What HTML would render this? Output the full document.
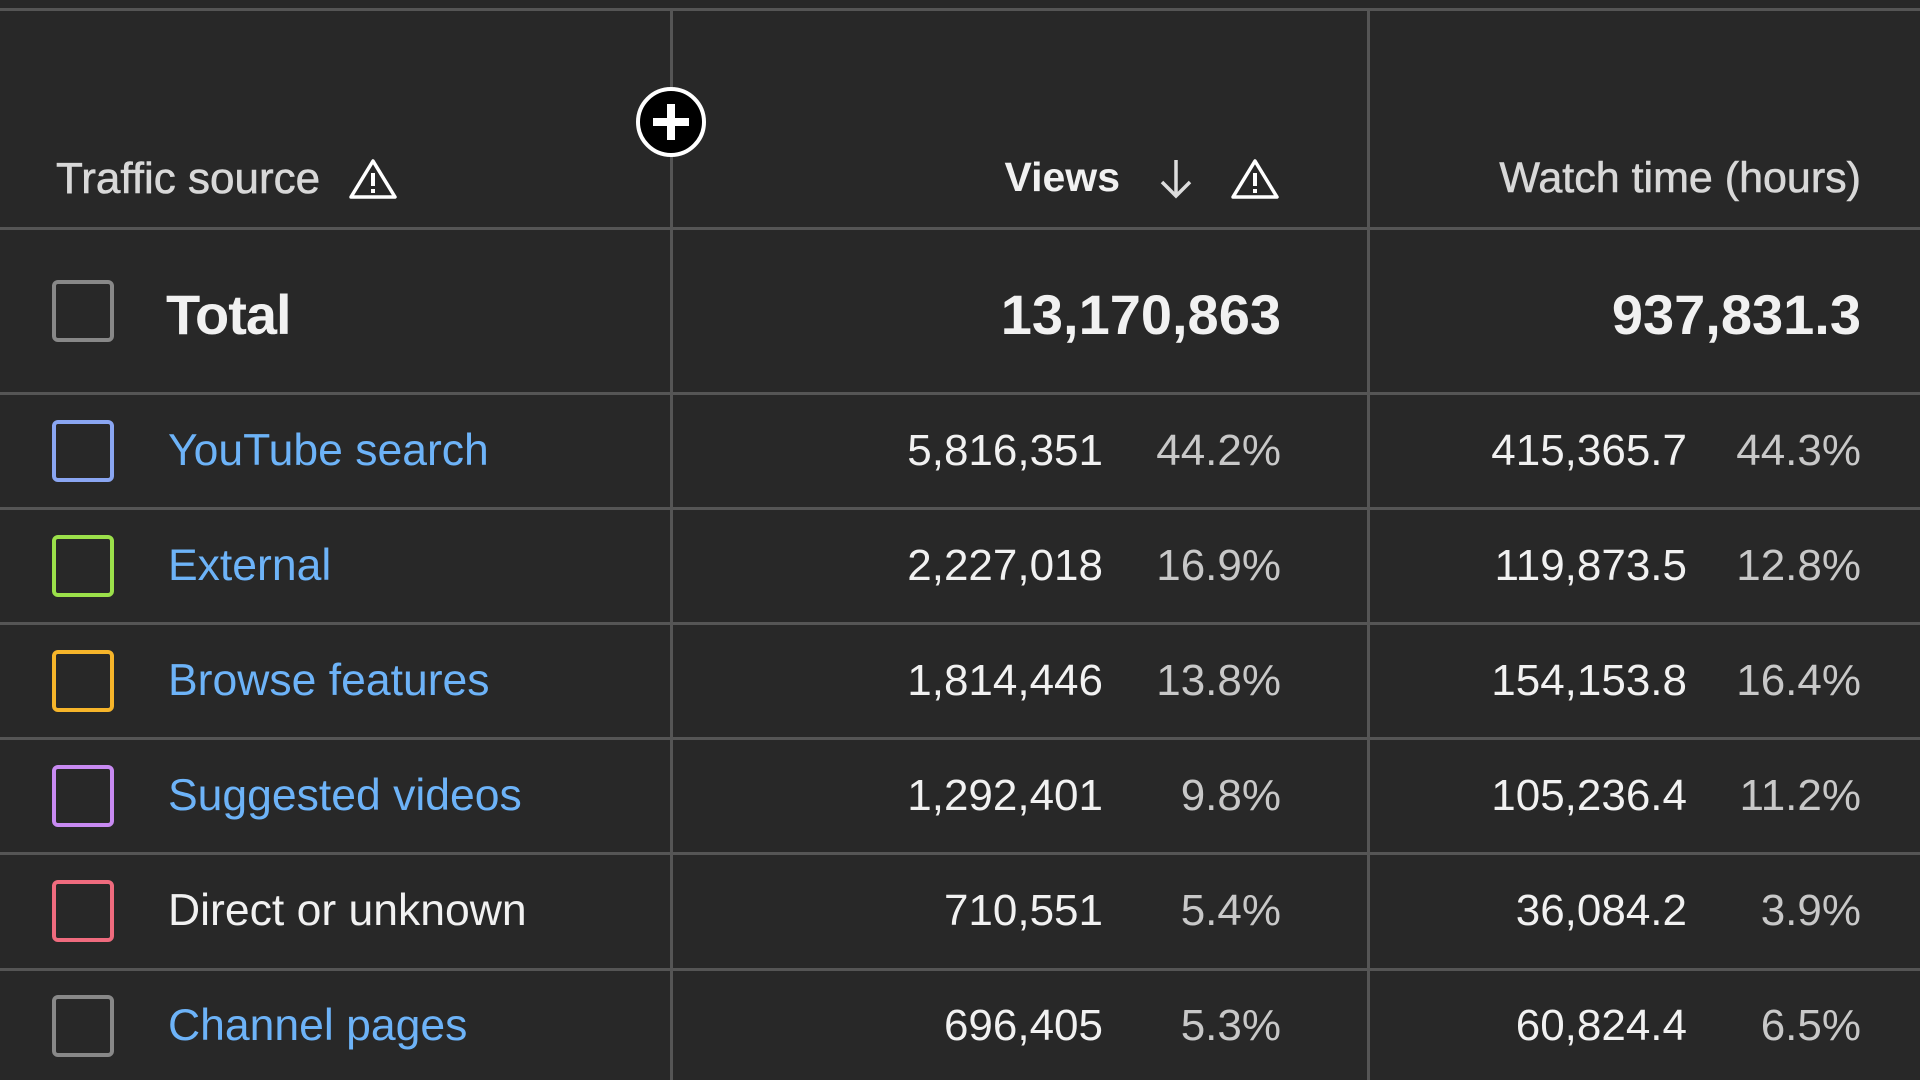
<!DOCTYPE html>
<html><head><meta charset="utf-8"><style>
html,body{margin:0;padding:0;width:1920px;height:1080px;overflow:hidden;background:#282828;font-family:"Liberation Sans",Arial,sans-serif;color:#f1f1f1}
.h{position:absolute;left:0;width:1920px;height:3px;background:#555}
.v{position:absolute;top:9px;width:3px;height:1071px;background:#555}
.t{position:absolute;white-space:nowrap;line-height:1}
.r{text-align:right}
.cb{position:absolute;left:52px;width:62px;height:62px;border:4px solid #888;border-radius:6px;box-sizing:border-box}
.lnk{color:#6db3f8}
.pc{color:#c8c8c8}
.n{font-size:44px}
</style></head><body>
<div class="h" style="top:8px"></div>
<div class="h" style="top:227px"></div>
<div class="h" style="top:392px"></div>
<div class="h" style="top:507px"></div>
<div class="h" style="top:622px"></div>
<div class="h" style="top:737px"></div>
<div class="h" style="top:852px"></div>
<div class="h" style="top:968px"></div>
<div class="v" style="left:670px"></div>
<div class="v" style="left:1367px"></div>

<svg style="position:absolute;left:635px;top:86px" width="72" height="72" viewBox="0 0 72 72">
<circle cx="36" cy="36" r="33" fill="#000" stroke="#fff" stroke-width="4"/>
<rect x="32" y="18" width="8" height="36" fill="#fff"/><rect x="18" y="32" width="36" height="8" fill="#fff"/>
</svg>

<div class="t" style="left:56px;top:157px;font-size:44px;color:#d8d8d8;-webkit-text-stroke:0.6px #d8d8d8">Traffic source</div>
<svg style="position:absolute;left:348px;top:158px" width="50" height="42" viewBox="0 0 50 42"><path d="M25 3 L47 39 L3 39 Z" fill="none" stroke="#fff" stroke-width="3.5" stroke-linejoin="round"/><rect x="23" y="15" width="4" height="13" fill="#fff"/><rect x="23" y="31" width="4" height="4" fill="#fff"/></svg>

<div class="t r" style="right:800px;top:157px;font-size:41px;font-weight:bold;width:200px">Views</div>
<svg style="position:absolute;left:1156px;top:158px" width="40" height="42" viewBox="0 0 40 42"><path d="M20 2 V38 M6 24 L20 38 L34 24" fill="none" stroke="#ddd" stroke-width="3.5"/></svg>
<svg style="position:absolute;left:1230px;top:158px" width="50" height="42" viewBox="0 0 50 42"><path d="M25 3 L47 39 L3 39 Z" fill="none" stroke="#fff" stroke-width="3.5" stroke-linejoin="round"/><rect x="23" y="15" width="4" height="13" fill="#fff"/><rect x="23" y="31" width="4" height="4" fill="#fff"/></svg>
<div class="t r" style="right:59px;top:157px;font-size:43px;color:#d8d8d8;-webkit-text-stroke:0.6px #d8d8d8">Watch time (hours)</div>

<div class="cb" style="top:280px"></div>
<div class="t" style="left:166px;top:287px;font-size:56px;font-weight:bold;letter-spacing:-1px">Total</div>
<div class="t r" style="right:639px;top:287px;font-size:56px;font-weight:bold">13,170,863</div>
<div class="t r" style="right:59px;top:287px;font-size:56px;font-weight:bold">937,831.3</div>

<div class="cb" style="top:420px;border-color:#8aa6f2"></div>
<div class="t lnk" style="left:168px;top:429px;font-size:44.5px">YouTube search</div>
<div class="t r n" style="right:817px;top:429px">5,816,351</div>
<div class="t r pc n" style="right:639px;top:429px">44.2%</div>
<div class="t r n" style="right:233px;top:429px">415,365.7</div>
<div class="t r pc n" style="right:59px;top:429px">44.3%</div>

<div class="cb" style="top:535px;border-color:#9be04a"></div>
<div class="t lnk" style="left:168px;top:544px;font-size:44.5px">External</div>
<div class="t r n" style="right:817px;top:544px">2,227,018</div>
<div class="t r pc n" style="right:639px;top:544px">16.9%</div>
<div class="t r n" style="right:233px;top:544px">119,873.5</div>
<div class="t r pc n" style="right:59px;top:544px">12.8%</div>

<div class="cb" style="top:650px;border-color:#f6b52a"></div>
<div class="t lnk" style="left:168px;top:659px;font-size:44.5px">Browse features</div>
<div class="t r n" style="right:817px;top:659px">1,814,446</div>
<div class="t r pc n" style="right:639px;top:659px">13.8%</div>
<div class="t r n" style="right:233px;top:659px">154,153.8</div>
<div class="t r pc n" style="right:59px;top:659px">16.4%</div>

<div class="cb" style="top:765px;border-color:#c88af2"></div>
<div class="t lnk" style="left:168px;top:774px;font-size:44.5px">Suggested videos</div>
<div class="t r n" style="right:817px;top:774px">1,292,401</div>
<div class="t r pc n" style="right:639px;top:774px">9.8%</div>
<div class="t r n" style="right:233px;top:774px">105,236.4</div>
<div class="t r pc n" style="right:59px;top:774px">11.2%</div>

<div class="cb" style="top:880px;border-color:#ef6b7e"></div>
<div class="t" style="left:168px;top:889px;font-size:44.5px">Direct or unknown</div>
<div class="t r n" style="right:817px;top:889px">710,551</div>
<div class="t r pc n" style="right:639px;top:889px">5.4%</div>
<div class="t r n" style="right:233px;top:889px">36,084.2</div>
<div class="t r pc n" style="right:59px;top:889px">3.9%</div>

<div class="cb" style="top:995px;border-color:#888"></div>
<div class="t lnk" style="left:168px;top:1004px;font-size:44.5px">Channel pages</div>
<div class="t r n" style="right:817px;top:1004px">696,405</div>
<div class="t r pc n" style="right:639px;top:1004px">5.3%</div>
<div class="t r n" style="right:233px;top:1004px">60,824.4</div>
<div class="t r pc n" style="right:59px;top:1004px">6.5%</div>
</body></html>
